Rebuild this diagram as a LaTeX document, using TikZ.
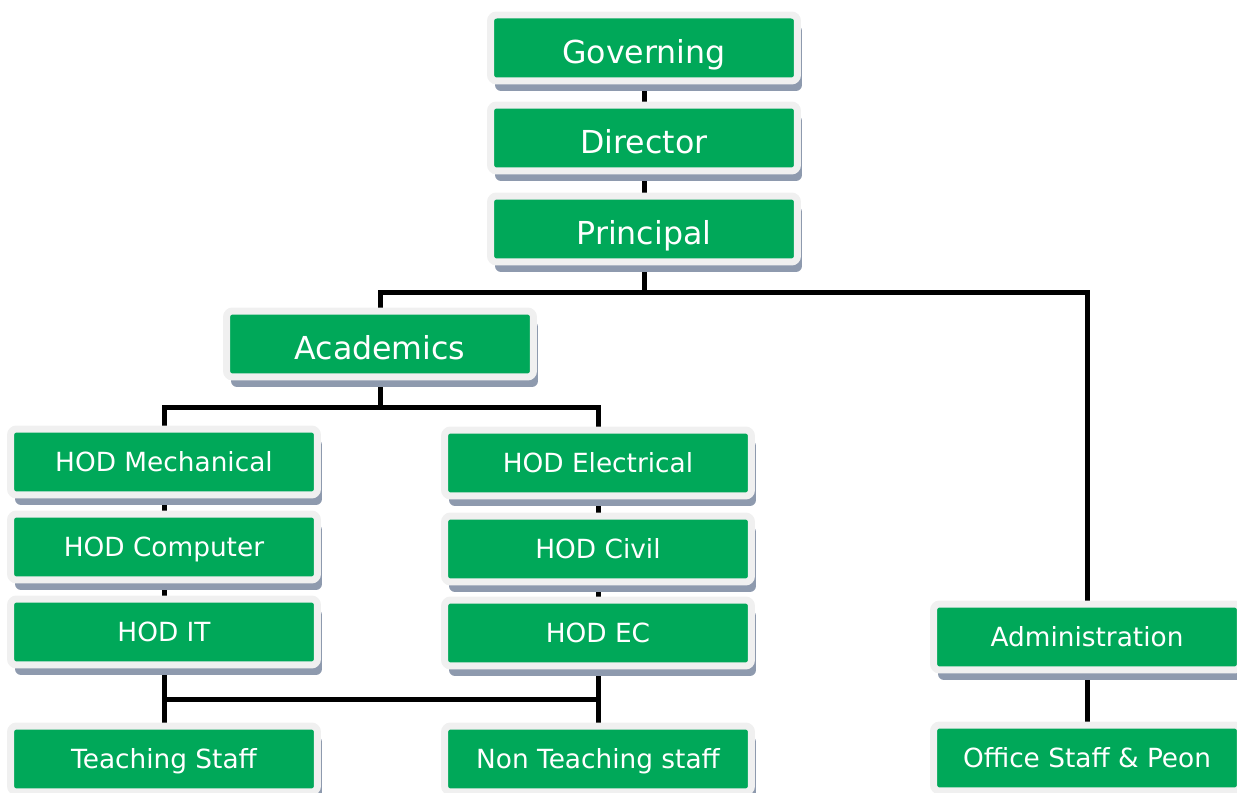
\documentclass[tikz,border=0pt]{standalone}
\usepackage{fontspec}
\setmainfont{DejaVu Sans}
\usetikzlibrary{shadows}
\definecolor{boxgreen}{RGB}{0,168,89}
\definecolor{boxframe}{RGB}{240,240,240}
\definecolor{boxshadow}{RGB}{142,154,174}
\pgfdeclarelayer{background}
\pgfsetlayers{background,main}
\tikzset{
	unit/.style={draw=boxframe, fill=boxgreen, line width=0.14cm, rounded corners=0.12cm, minimum width=6.14cm, minimum height=1.32cm, inner sep=0pt, text=white, drop shadow={shadow xshift=0.09cm, shadow yshift=-0.2cm, fill=boxshadow, opacity=1}},
	head/.style={unit, font=\fontsize{18}{18}\selectfont, text height=18pt, text depth=0pt},
	dept/.style={unit, font=\fontsize{15}{15}\selectfont, text height=11pt, text depth=0pt},
	link/.style={line width=0.1cm, black}
}
\begin{document}
\begin{tikzpicture}[x=0.02cm, y=-0.02cm]
	\useasboundingbox (0,0) rectangle (1237,793);
	\node[head] (governing) at (644,48) {Governing};
	\node[head] (director) at (644,138) {Director};
	\node[head] (principal) at (644,229) {Principal};
	\node[head] (academics) at (380,344) {Academics};
	
	\node[dept] (hodmech) at (164,462) {HOD Mechanical};
	\node[dept] (hodcomp) at (164,547) {HOD Computer};
	\node[dept] (hodit) at (164,632) {HOD IT};
	\node[dept] (hodelec) at (598,463) {HOD Electrical};
	\node[dept] (hodcivil) at (598,549) {HOD Civil};
	\node[dept] (hodec) at (598,633) {HOD EC};
	
	\node[dept] (teaching) at (164,759) {Teaching Staff};
	\node[dept] (nonteaching) at (598,759) {Non Teaching staff};
	\node[dept] (admin) at (1087,637) {Administration};
	\node[dept] (office) at (1087,758) {Office Staff \& Peon};
	
	\coordinate (bustop) at (0,293);
	\coordinate (busacad) at (0,408);
	\coordinate (busstaff) at (0,699);
	\begin{pgfonlayer}{background}
		\draw[link] (governing) -- (principal);
		\draw[link] (principal) -- (principal |- bustop);
		\draw[link] (academics) |- (admin |- bustop) -- (admin);
		\draw[link] (academics) -- (academics |- busacad);
		\draw[link] (hodmech) |- (hodelec |- busacad) -- (hodelec);
		\draw[link] (hodmech) -- (hodit);
		\draw[link] (hodelec) -- (hodec);
		\draw[link] (hodit) -- (teaching);
		\draw[link] (hodec) -- (nonteaching);
		\draw[link] (hodit |- busstaff) -- (hodec |- busstaff);
		\draw[link] (admin) -- (office);
	\end{pgfonlayer}
\end{tikzpicture}
\end{document}
